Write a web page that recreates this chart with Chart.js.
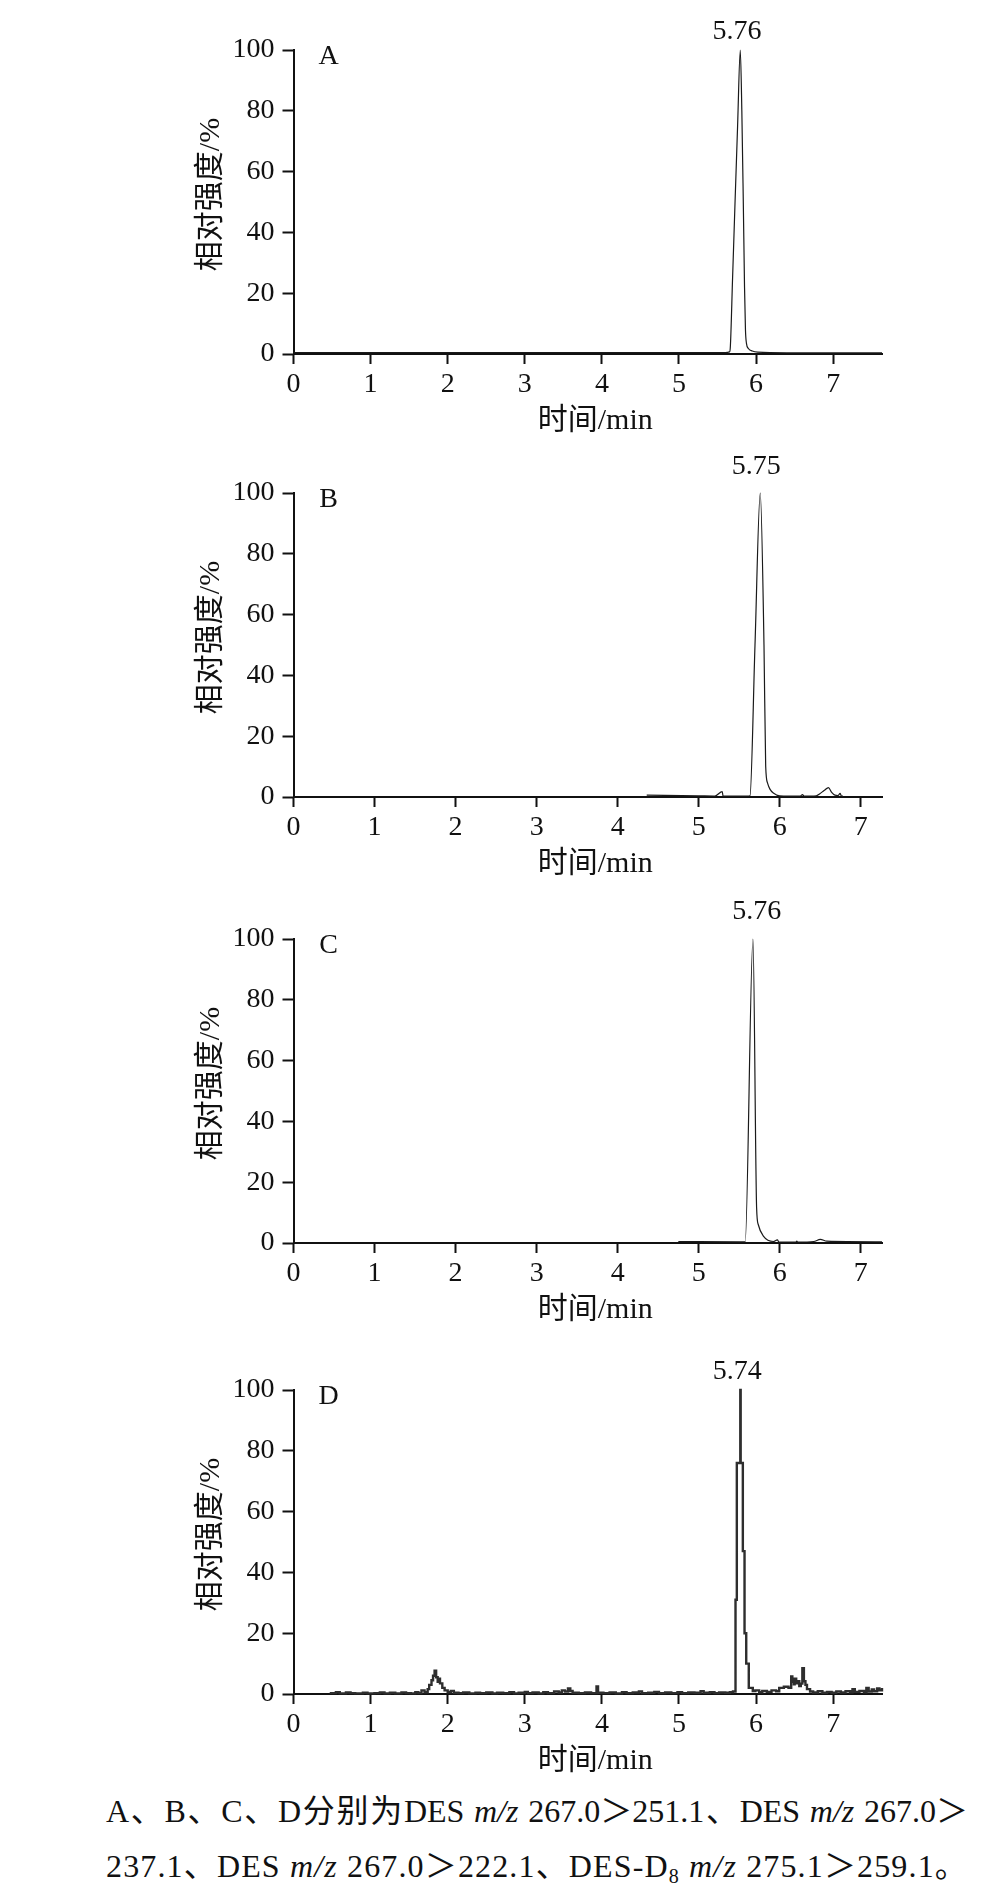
<!DOCTYPE html>
<html>
<head>
<meta charset="utf-8">
<script src="https://cdn.jsdelivr.net/npm/chart.js@4.4.1/dist/chart.umd.min.js"></script>
<style>
  html, body { margin: 0; padding: 0; background: #fff; }
  body { width: 989px; height: 1887px; position: relative; overflow: hidden; }
  .panel { position: absolute; left: 0; }
  .caption {
    position: absolute; left: 106px; width: 862px;
    font: 32px/40px 'Liberation Serif', 'Noto Sans CJK SC', serif;
    letter-spacing: 1.15px;
    color: #111; white-space: nowrap;
  }
  .caption.first { text-align: justify; text-align-last: justify; letter-spacing: 0; }
  .caption i { font-style: italic; }
  .caption sub { font-size: 20px; line-height: 0; vertical-align: -6px; }
</style>
</head>
<body>
<canvas id="chartA" class="panel" width="989" height="444" style="top:0px"></canvas>
<canvas id="chartB" class="panel" width="989" height="444" style="top:443px"></canvas>
<canvas id="chartC" class="panel" width="989" height="444" style="top:889px"></canvas>
<canvas id="chartD" class="panel" width="989" height="444" style="top:1340px"></canvas>

<div class="caption first" style="top:1791px">A、B、C、D分别为DES <i>m/z</i> 267.0＞251.1、DES <i>m/z</i> 267.0＞</div>
<div class="caption" style="top:1846px">237.1、DES <i>m/z</i> 267.0＞222.1、DES-D<sub>8</sub> <i>m/z</i> 275.1＞259.1。</div>

<script>
// axis text
const xTitle = '  时间/min';
const yTitle = '  相对强度/%';
const panelTags = ['A', 'B', 'C', 'D'];
const peakLabels = ['5.76', '5.75', '5.76', '5.74'];

// A: DES m/z 267.0>251.1
const timesA = [0, 5.60, 5.655, 5.665, 5.695, 5.727, 5.76, 5.795, 5.815, 5.834, 5.85, 5.862,
  5.875, 5.90, 5.95, 6.02, 6.40, 7.633];
const signalA = [0.5, 0.5, 0.7, 2, 25, 50, 75, 100, 80, 50, 22, 8,
  3.5, 1.8, 1.0, 0.6, 0.4, 0.4];

// B: DES m/z 267.0>237.1
const timesB = [4.358, 5.00, 5.18, 5.20, 5.29, 5.30, 5.60, 5.632, 5.694, 5.759, 5.805, 5.826,
  5.85, 5.88, 5.92, 6.00, 6.25, 6.28, 6.30, 6.45, 6.49, 6.55, 6.60, 6.64, 6.68, 6.72,
  6.745, 6.76, 6.78];
const signalB = [0.6, 0.4, 0.3, 0.3, 1.8, 0.3, 0.3, 0.4, 50, 100, 50, 10,
  4.5, 2.5, 1.3, 0.4, 0.3, 0.8, 0.3, 0.4, 1.0, 2.2, 3.1, 1.5, 0.6, 0.5,
  1.2, 0.3, 0.3];

// C: DES m/z 267.0>222.1
const timesC = [4.748, 5.50, 5.573, 5.669, 5.714, 5.735, 5.80, 5.92, 5.97, 5.99, 6.20, 6.21,
  6.22, 6.42, 6.50, 6.58, 7.261];
const signalC = [0.5, 0.4, 0.4, 100, 11.5, 6, 2.2, 0.5, 1.0, 0.3, 0.3, 0.6,
  0.3, 0.5, 1.2, 0.6, 0.4];

// D: DES-D8 m/z 275.1>259.1
const timesD = [0.47, 0.55, 0.60, 0.68, 0.74, 0.80, 0.90, 0.96, 1.05, 1.12, 1.18, 1.25,
  1.32, 1.40, 1.46, 1.52, 1.58, 1.62, 1.66, 1.70, 1.74, 1.76, 1.79, 1.81,
  1.83, 1.85, 1.87, 1.89, 1.90, 1.93, 1.96, 2.00, 2.04, 2.08, 2.14, 2.20,
  2.28, 2.36, 2.42, 2.50, 2.58, 2.64, 2.72, 2.80, 2.86, 2.92, 3.00, 3.04,
  3.10, 3.18, 3.24, 3.30, 3.38, 3.44, 3.48, 3.52, 3.56, 3.59, 3.62, 3.70,
  3.78, 3.86, 3.93, 3.95, 4.02, 4.10, 4.18, 4.26, 4.32, 4.40, 4.48, 4.52,
  4.60, 4.68, 4.74, 4.82, 4.90, 4.98, 5.04, 5.12, 5.20, 5.28, 5.32, 5.40,
  5.46, 5.52, 5.60, 5.66, 5.70, 5.733, 5.75, 5.795, 5.80, 5.828, 5.85, 5.872,
  5.905, 5.957, 5.99, 6.04, 6.08, 6.14, 6.20, 6.26, 6.30, 6.36, 6.42, 6.455,
  6.47, 6.49, 6.50, 6.52, 6.54, 6.56, 6.58, 6.60, 6.62, 6.64, 6.66, 6.70,
  6.74, 6.80, 6.86, 6.92, 6.98, 7.04, 7.10, 7.16, 7.22, 7.25, 7.28, 7.34,
  7.40, 7.43, 7.46, 7.50, 7.53, 7.57, 7.60, 7.633];
const signalD = [0.3, 0.6, 0.2, 0.5, 0.3, 0.2, 0.4, 0.2, 0.3, 0.5, 0.2, 0.4,
  0.2, 0.5, 0.3, 0.2, 0.6, 0.3, 1.2, 0.6, 1.6, 3.0, 4.5, 6.0,
  7.7, 5.5, 4.0, 5.0, 3.5, 2.0, 1.2, 0.6, 1.0, 0.4, 0.3, 0.5,
  0.2, 0.4, 0.3, 0.5, 0.2, 0.4, 0.3, 0.6, 0.2, 0.4, 0.7, 0.3,
  0.5, 0.2, 0.6, 0.3, 0.8, 0.5, 1.2, 0.8, 1.8, 1.0, 0.4, 0.3,
  0.5, 0.3, 2.5, 0.4, 0.3, 0.5, 0.2, 0.6, 0.3, 0.5, 0.8, 0.3,
  0.4, 0.7, 0.3, 0.5, 0.3, 0.6, 0.3, 0.5, 0.4, 0.9, 0.4, 0.6,
  0.3, 0.5, 0.4, 0.6, 0.8, 31, 76, 100, 76, 47, 20, 10,
  2, 1, 1.2, 0.6, 1.0, 0.7, 1.2, 0.9, 2.0, 2.4, 2.0, 5.8,
  4.0, 3.2, 5.0, 3.5, 4.2, 2.6, 3.4, 8.5, 4.2, 3.0, 1.6, 0.8,
  0.5, 0.9, 0.4, 0.7, 0.4, 0.8, 0.5, 0.9, 0.6, 1.6, 0.7, 1.0,
  0.6, 2.0, 0.8, 1.5, 0.9, 1.8, 1.2, 2.0];

const ink = '#111';
const serif = "'Liberation Serif', 'Noto Sans CJK SC', serif";

// peak retention-time label and panel letter drawn on top of each chart
const annotations = {
  id: 'annotations',
  afterDraw(chart, args, opts) {
    const { ctx, chartArea, scales } = chart;
    ctx.save();
    ctx.fillStyle = ink;
    ctx.textAlign = 'center';
    ctx.textBaseline = 'middle';
    ctx.font = '28px ' + serif;
    ctx.fillText(opts.tag, chartArea.left + 35, chartArea.top + 7);
    ctx.fillText(opts.peak, scales.x.getPixelForValue(opts.peakAt[0]),
      scales.y.getPixelForValue(opts.peakAt[1]));
    ctx.restore();
  }
};

function drawPanel(id, times, values, idx, xMax, peakAt, stepped) {
  const points = times.map((t, i) => ({ x: t, y: values[i] }));
  return new Chart(document.getElementById(id), {
    type: 'line',
    data: {
      datasets: [{
        data: points,
        borderColor: stepped ? '#2e2e2e' : '#1a1a1a',
        borderWidth: stepped ? 2.4 : 1.2,
        pointRadius: 0,
        stepped: stepped,
        cubicInterpolationMode: stepped ? 'default' : 'monotone',
        tension: 0,
        clip: false
      }]
    },
    options: {
      responsive: false,
      animation: false,
      events: [],
      layout: { padding: { left: 175, right: 107, top: 50, bottom: 0 } },
      plugins: {
        legend: { display: false },
        tooltip: { enabled: false },
        annotations: { tag: panelTags[idx], peak: peakLabels[idx], peakAt: peakAt }
      },
      scales: {
        x: {
          type: 'linear',
          min: 0,
          max: xMax,
          afterFit: s => { s.height = 90; },
          ticks: {
            stepSize: 1, includeBounds: false, padding: 4, maxRotation: 0,
            color: ink, font: { family: serif, size: 28 }
          },
          grid: { drawOnChartArea: false, tickLength: 10, tickWidth: 2, tickColor: ink },
          border: { display: true, color: ink, width: 2 },
          title: {
            display: true, text: xTitle, color: ink,
            font: { family: serif, size: 30 }, padding: { top: 0, bottom: 5 }
          }
        },
        y: {
          min: 0,
          max: 100,
          afterFit: s => { s.width = 118.5; },
          ticks: { stepSize: 20, padding: 8, color: ink, font: { family: serif, size: 28 } },
          grid: { drawOnChartArea: false, tickLength: 11, tickWidth: 2, tickColor: ink },
          border: { display: true, color: ink, width: 2 },
          title: {
            display: true, text: yTitle, color: ink,
            font: { family: serif, size: 30 }, padding: { top: 18, bottom: 0 }
          }
        }
      }
    },
    plugins: [annotations]
  });
}

drawPanel('chartA', timesA, signalA, 0, 7.633, [5.752, 105.9], false);
drawPanel('chartB', timesB, signalB, 1, 7.261, [5.710, 108.6], false);
drawPanel('chartC', timesC, signalC, 2, 7.261, [5.715, 108.9], false);
drawPanel('chartD', timesD, signalD, 3, 7.633, [5.756, 106.2], true);
</script>
</body>
</html>
